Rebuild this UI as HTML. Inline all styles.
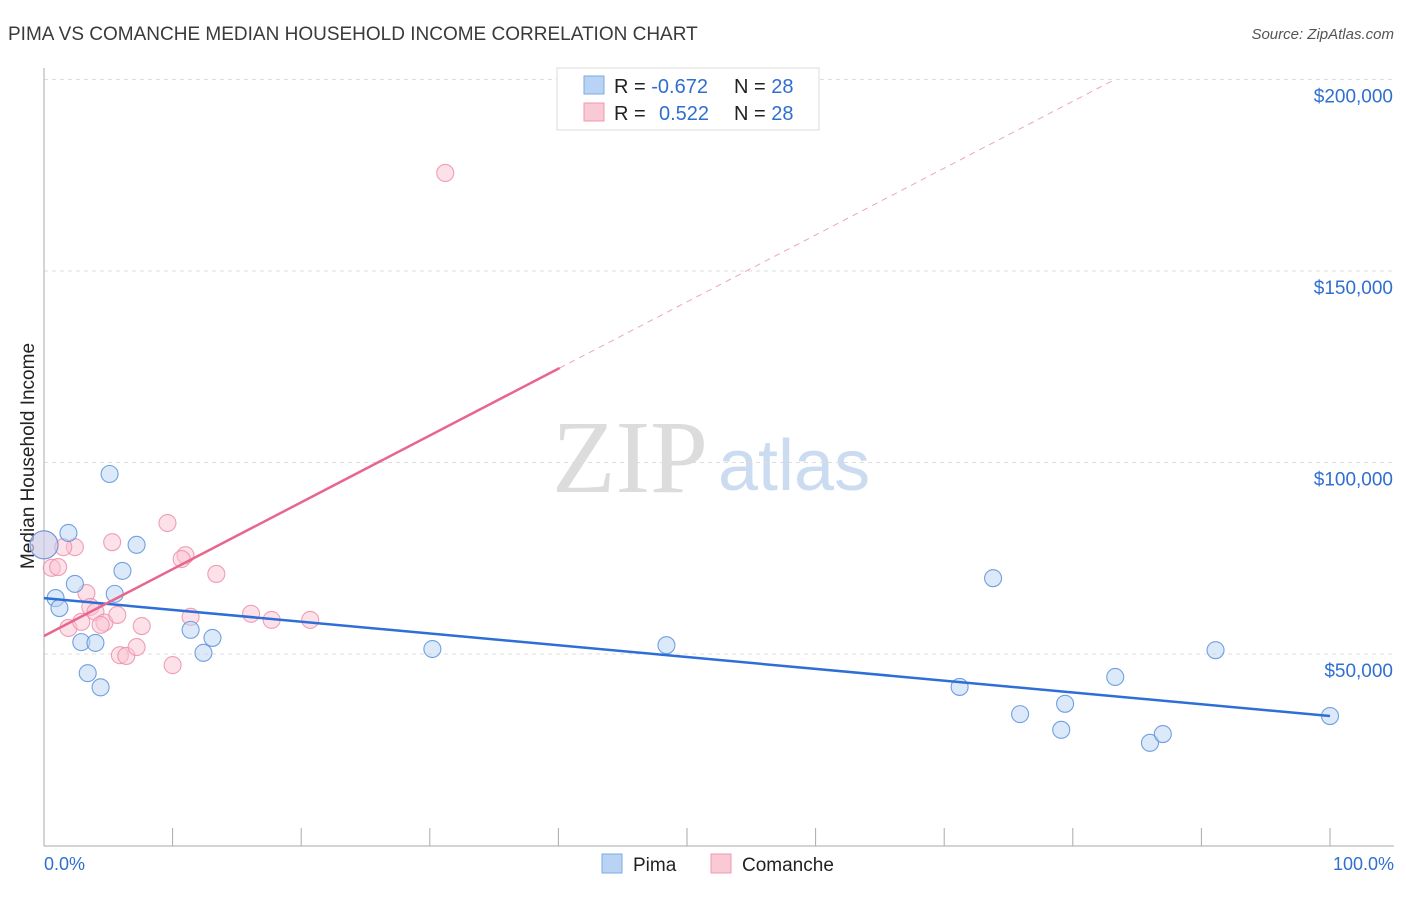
<!DOCTYPE html>
<html><head><meta charset="utf-8"><style>
body{margin:0;background:#fff;font-family:"Liberation Sans",sans-serif;}
</style></head><body>
<svg id="chart" width="1406" height="892" xmlns="http://www.w3.org/2000/svg" font-family="Liberation Sans, sans-serif">
<text x="8" y="40" font-size="19" fill="#3a3a3a">PIMA VS COMANCHE MEDIAN HOUSEHOLD INCOME CORRELATION CHART</text>
<text x="1394" y="39" font-size="15" fill="#555" font-style="italic" text-anchor="end">Source: ZipAtlas.com</text>
<text x="552" y="492" font-size="104" fill="#dcdcdc" style="font-family:'Liberation Serif',serif">ZIP</text>
<text x="718" y="490" font-size="72" fill="#cbdcf1">atlas</text>
<text transform="translate(34,456) rotate(-90)" font-size="19" fill="#222" text-anchor="middle">Median Household Income</text>
<g id="grid"></g><g id="marks"></g>
<g>
<rect x="557" y="68" width="262" height="62" fill="#fff" stroke="#ddd"/>
<rect x="584" y="76" width="20" height="18" fill="#b9d3f4" stroke="#7fa9e0"/>
<rect x="584" y="103" width="20" height="18" fill="#f9c9d6" stroke="#ec9ab2"/>
<text x="614" y="93" font-size="20" fill="#222">R = <tspan fill="#2f6fd0">-0.672</tspan><tspan x="734">N = </tspan><tspan fill="#2f6fd0">28</tspan></text>
<text x="614" y="120" font-size="20" fill="#222">R = <tspan x="659" fill="#2f6fd0">0.522</tspan><tspan x="734">N = </tspan><tspan fill="#2f6fd0">28</tspan></text>
</g>
<g>
<rect x="602" y="854" width="20" height="19" fill="#b9d3f4" stroke="#7fa9e0"/>
<text x="633" y="871" font-size="19" fill="#222">Pima</text>
<rect x="711" y="854" width="20" height="19" fill="#f9c9d6" stroke="#ec9ab2"/>
<text x="742" y="871" font-size="19" fill="#222">Comanche</text>
</g>
<text x="44" y="870" font-size="18" fill="#2f6fd0">0.0%</text>
<text x="1394" y="870" font-size="18" fill="#2f6fd0" text-anchor="end">100.0%</text>
</svg>
<script>
const yTicks=[50,100,150,200];
const yTickLabels=["$50,000","$100,000","$150,000","$200,000"];
const pimaX=[0,1.9,0.9,1.2,2.4,2.9,4.0,3.4,4.4,5.1,7.2,6.1,5.5,11.4,13.1,12.4,30.2,48.4,73.8,71.2,75.9,79.4,79.1,83.3,86.0,87.0,91.1,100];
const pimaY=[78.5,81.6,64.6,62.0,68.3,53.1,52.9,45.0,41.3,97.0,78.5,71.7,65.7,56.3,54.2,50.3,51.3,52.3,69.8,41.4,34.3,37.0,30.2,44.0,26.8,29.1,51.0,33.8];
const comX=[0,0.6,1.1,2.4,1.5,5.3,9.6,11.0,10.7,13.4,3.3,3.6,4.0,1.9,2.9,4.7,5.7,7.6,11.4,16.1,17.7,20.7,5.9,6.4,7.2,10.0,31.2,4.4];
const comY=[78.5,72.5,72.7,77.9,77.9,79.2,84.2,75.8,74.8,70.9,65.9,62.3,61.0,56.8,58.4,58.2,60.2,57.3,59.7,60.5,58.9,58.9,49.7,49.5,51.8,47.1,175.6,57.6];
const pimaTrend=[64.6,33.8];   // values at 0% and 100%
const comTrend=[54.7,1.745];   // intercept, slope per %
const comSolidEnd=40.1;
const NS="http://www.w3.org/2000/svg";
const sx=v=>44+v*12.86, sy=v=>845.5-v*3.83;
const grid=document.getElementById('grid'), marks=document.getElementById('marks');
function mk(tag,attrs,parent){const e=document.createElementNS(NS,tag);for(const k in attrs)e.setAttribute(k,attrs[k]);parent.appendChild(e);return e;}
yTicks.forEach((t,i)=>{
  const l=mk('line',{x1:44,x2:1394,y1:sy(t),y2:sy(t),stroke:'#ddd','stroke-dasharray':'4,4'},grid);
  
  
  const tx=mk('text',{x:1393,y:sy(t)+23,'font-size':19,fill:'#2f6fd0','text-anchor':'end'},grid);
  tx.textContent=yTickLabels[i];
  
  
});
const ax=mk('line',{x1:44,x2:44,y1:68,y2:846,stroke:'#aaa'},grid);


const bx=mk('line',{x1:44,x2:1394,y1:846,y2:846,stroke:'#aaa'},grid);


for(let i=0;i<=10;i++){const t=mk('line',{x1:sx(i*10),x2:sx(i*10),y1:828,y2:846,stroke:'#aaa'},grid);

}
function dots(X,Y,fill,stroke,name){X.forEach((x,i)=>{
  const big=(x===0&&i===0);
  const c=mk('circle',{cx:sx(x),cy:sy(Y[i]),r:big?14:8.5,fill:fill,'fill-opacity':big?0.45:0.5,stroke:stroke,'stroke-opacity':0.85,'stroke-width':1.1},marks);
  
  
});}
dots(comX,comY,'#f9c3d2','#ec8fab','comanche-point');
dots(pimaX,pimaY,'#b9d3f4','#5a90dc','pima-point');
const pl=mk('line',{x1:sx(0),y1:sy(pimaTrend[0]),x2:sx(100),y2:sy(pimaTrend[1]),stroke:'#2d6fd6','stroke-width':2.5},marks);


const cl=mk('line',{x1:sx(0),y1:sy(comTrend[0]),x2:sx(comSolidEnd),y2:sy(comTrend[0]+comTrend[1]*comSolidEnd),stroke:'#e8668e','stroke-width':2.5},marks);


const xEnd=(200-comTrend[0])/comTrend[1];
const cd=mk('line',{x1:sx(comSolidEnd),y1:sy(comTrend[0]+comTrend[1]*comSolidEnd),x2:sx(xEnd),y2:sy(200),stroke:'#eea5bb','stroke-width':1,'stroke-dasharray':'6,5'},marks);


</script>
</body></html>
